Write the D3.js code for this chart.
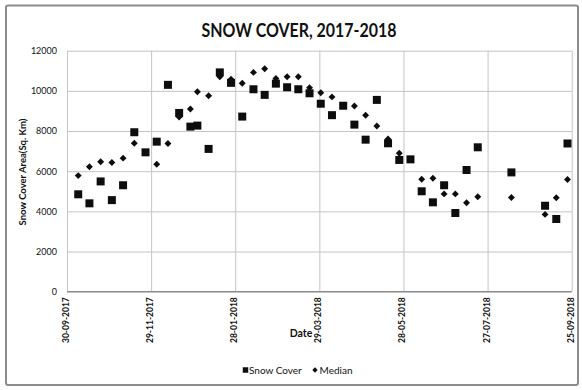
<!DOCTYPE html>
<html>
<head>
<meta charset="utf-8">
<script src="https://cdn.jsdelivr.net/npm/d3@7"></script>
<style>
  html, body { margin: 0; padding: 0; background: #fff; }
  svg { display: block; }
  text { font-family: Lato, "Open Sans", sans-serif; fill: #111; }
</style>
</head>
<body>
<svg id="chart" width="582" height="390"></svg>
<script>
// 8-day composite dates
const dates = [
  "2017-10-08","2017-10-16","2017-10-24","2017-11-01","2017-11-09","2017-11-17",
  "2017-11-25","2017-12-03","2017-12-11","2017-12-19","2017-12-27","2018-01-01",
  "2018-01-09","2018-01-17","2018-01-25","2018-02-02","2018-02-10","2018-02-18",
  "2018-02-26","2018-03-06","2018-03-14","2018-03-22","2018-03-30","2018-04-07",
  "2018-04-15","2018-04-23","2018-05-01","2018-05-09","2018-05-17","2018-05-25",
  "2018-06-02","2018-06-10","2018-06-18","2018-06-26","2018-07-04","2018-07-12",
  "2018-07-20","2018-08-13","2018-09-06","2018-09-14","2018-09-22"
];

// Snow cover area, sq. km
const snowCover = [
  4850, 4400, 5490, 4560, 5300, 7940,
  6940, 7470, 10300, 8900, 8220, 8270,
  7110, 10920, 10400, 8720, 10080, 9800,
  10360, 10180, 10080, 9880, 9360, 8790,
  9260, 8320, 7570, 9550, 7390, 6560,
  6590, 5000, 4450, 5300, 3920, 6060,
  7190, 5940, 4280, 3620, 7380
];

// Median snow cover area, sq. km
const median = [
  5780, 6220, 6470, 6430, 6650, 7390,
  6940, 6350, 7380, 8700, 9100, 9960,
  9760, 10700, 10580, 10380, 10920, 11100,
  10620, 10700, 10700, 10160, 9910, 9700,
  9260, 9250, 8790, 8250, 7600, 6890,
  6590, 5600, 5650, 4870, 4870, 4430,
  4730, 4690, 3850, 4680, 5590
];

const xTickLabels = ["30-09-2017","29-11-2017","28-01-2018","29-03-2018","28-05-2018","27-07-2018","25-09-2018"];
const yTicks = [0, 2000, 4000, 6000, 8000, 10000, 12000];

const parse = d3.timeParse("%Y-%m-%d");
const parseTick = d3.timeParse("%d-%m-%Y");
const fmtTick = d3.timeFormat("%d-%m-%Y");

const svg = d3.select("#chart");
const plot = { left: 67, right: 571.7, top: 50.7, bottom: 291.7 };

const x = d3.scaleTime()
  .domain([parseTick(xTickLabels[0]), parseTick(xTickLabels[xTickLabels.length - 1])])
  .range([plot.left, plot.right]);
const y = d3.scaleLinear().domain([0, 12000]).range([plot.bottom, plot.top]);

// outer chart frame
svg.append("rect")
  .attr("x", 6).attr("y", 5.5).attr("width", 572).attr("height", 379.5)
  .attr("rx", 2)
  .attr("fill", "#fff").attr("stroke", "#8c8c8c").attr("stroke-width", 2);

// title
svg.append("text")
  .attr("x", 299).attr("y", 37)
  .attr("text-anchor", "middle")
  .attr("font-size", 19).attr("font-weight", 700)
  .attr("textLength", 195).attr("lengthAdjust", "spacingAndGlyphs")
  .text("SNOW COVER, 2017-2018");

// horizontal gridlines + y labels
const yAxis = d3.axisLeft(y).tickValues(yTicks)
  .tickSize(-(plot.right - plot.left)).tickPadding(10).tickFormat(d3.format("d"));
const gy = svg.append("g").attr("transform", `translate(${plot.left},0)`).call(yAxis);
gy.select(".domain").remove();
gy.selectAll(".tick line").attr("stroke", "#c4c4c4").attr("stroke-width", 1);
gy.selectAll(".tick text").attr("font-size", 9).attr("fill", "#1a1a1a")
  .style("font-family", "Lato, sans-serif");

// vertical gridlines + date labels
const tickDates = xTickLabels.map(parseTick);
const xAxis = d3.axisBottom(x).tickValues(tickDates)
  .tickSize(-(plot.bottom - plot.top)).tickFormat(fmtTick);
const gx = svg.append("g").attr("transform", `translate(0,${plot.bottom})`).call(xAxis);
gx.select(".domain").remove();
gx.selectAll(".tick line").attr("stroke", "#c4c4c4").attr("stroke-width", 1);
gx.selectAll(".tick text")
  .attr("text-anchor", "end")
  .attr("font-size", 8.5).attr("font-weight", 700).attr("fill", "#1a1a1a")
  .attr("y", 0).attr("dy", "0.35em")
  .attr("transform", "translate(-1.5,5.5) rotate(-90)")
  .style("font-family", "Lato, sans-serif");

// category axis line
svg.append("line")
  .attr("x1", plot.left).attr("x2", plot.right)
  .attr("y1", plot.bottom).attr("y2", plot.bottom)
  .attr("stroke", "#8a8a8a").attr("stroke-width", 1.2);

// axis titles
svg.append("text")
  .attr("transform", "translate(23,172) rotate(-90)")
  .attr("text-anchor", "middle").attr("dy", "0.35em")
  .attr("font-size", 9.5).attr("font-weight", 700)
  .text("Snow Cover Area(Sq. Km)");

svg.append("text")
  .attr("x", 301).attr("y", 337)
  .attr("text-anchor", "middle")
  .attr("font-size", 10.5).attr("font-weight", 700)
  .text("Date");

const rows = dates.map((d, i) => ({ date: parse(d), snow: snowCover[i], med: median[i] }));

const square = d3.symbol().type(d3.symbolSquare).size(64);
const diamond = d3.symbol().type(d3.symbolSquare).size(24);

// Snow Cover markers
svg.append("g").selectAll("path").data(rows).join("path")
  .attr("d", square)
  .attr("transform", d => `translate(${x(d.date)},${y(d.snow)})`)
  .attr("fill", "#0d0d0d");

// Median markers
svg.append("g").selectAll("path").data(rows).join("path")
  .attr("d", diamond)
  .attr("transform", d => `translate(${x(d.date)},${y(d.med)}) rotate(45)`)
  .attr("fill", "#0d0d0d");

// legend
const lg = svg.append("g").attr("transform", "translate(0,370)");
lg.append("path").attr("d", d3.symbol().type(d3.symbolSquare).size(30))
  .attr("transform", "translate(245.5,0)").attr("fill", "#0d0d0d");
lg.append("text").attr("x", 249).attr("dy", "0.35em")
  .attr("font-size", 10).text("Snow Cover");
lg.append("path").attr("d", d3.symbol().type(d3.symbolSquare).size(14))
  .attr("transform", "translate(315,0) rotate(45)").attr("fill", "#0d0d0d");
lg.append("text").attr("x", 319.5).attr("dy", "0.35em")
  .attr("font-size", 10).text("Median");
</script>
</body>
</html>
